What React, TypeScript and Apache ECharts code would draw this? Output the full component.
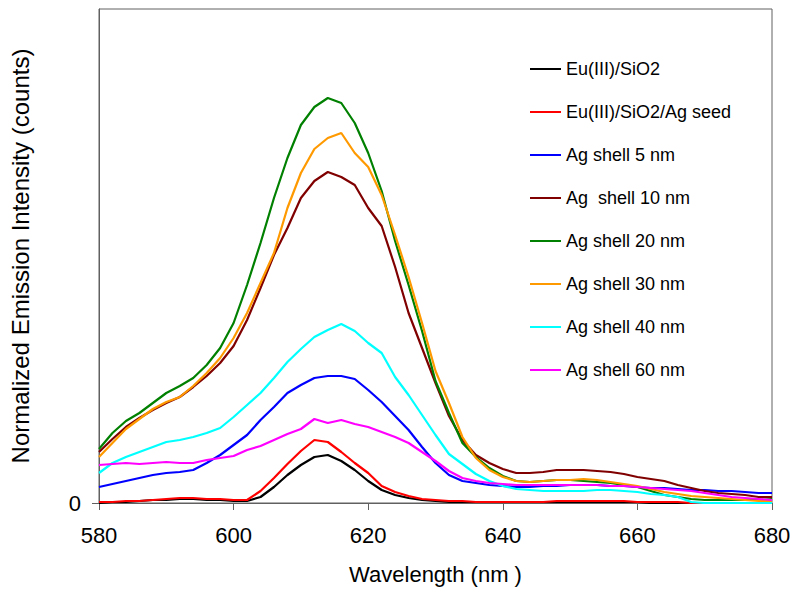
import React, { useEffect, useRef } from "react";
import * as echarts from "echarts";

const wavelengths = [
  580, 582, 584, 586, 588, 590, 592, 594, 596, 598, 600, 602, 604, 606, 608, 610, 612,
  614, 616, 618, 620, 622, 624, 626, 628, 630, 632, 634, 636, 638, 640, 642, 644, 646,
  648, 650, 652, 654, 656, 658, 660, 662, 664, 666, 668, 670, 672, 674, 676, 678, 680,
];

const euSiO2 = [
  0, 1, 1, 2, 3, 3, 4, 4, 3, 3, 2,
  2, 6, 16, 28, 38, 46, 48, 42, 33, 22,
  13, 8, 5, 3, 2, 1, 1, 1, 1, 1,
  1, 1, 1, 1, 1, 1, 1, 1, 1, 1,
  0, 0, 0, 0, 0, 0, 0, 0, 0, 0,
];
const euSiO2AgSeed = [
  1, 1, 2, 2, 3, 4, 5, 5, 4, 4, 3,
  3, 12, 25, 39, 52, 63, 61, 51, 40, 30,
  17, 11, 7, 4, 3, 2, 2, 1, 1, 1,
  1, 1, 1, 2, 2, 2, 2, 2, 2, 1,
  1, 1, 1, 0, 0, 0, 0, 0, 0, 0,
];
const shell5 = [
  16, 19, 22, 25, 28, 30, 31, 33, 40, 48, 58,
  68, 83, 96, 110, 118, 125, 127, 127, 124, 113,
  101, 87, 73, 56, 40, 28, 22, 20, 18, 17,
  16, 16, 17, 17, 18, 18, 18, 17, 17, 16,
  15, 15, 14, 13, 13, 12, 12, 11, 10, 10,
];
const shell10 = [
  51, 64, 76, 85, 93, 100, 106, 116, 127, 140, 157,
  183, 215, 248, 275, 305, 322, 331, 326, 318, 295,
  277, 236, 190, 155, 120, 87, 63, 48, 40, 34,
  30, 30, 31, 33, 33, 33, 32, 31, 29, 26,
  24, 22, 18, 15, 12, 10, 9, 8, 6, 6,
];
const shell20 = [
  54, 70, 82, 90, 100, 110, 117, 125, 138, 155, 180,
  218, 260, 305, 345, 378, 396, 405, 400, 380, 350,
  312, 262, 218, 172, 122, 90, 60, 46, 35, 27,
  22, 21, 22, 23, 23, 22, 21, 20, 18, 16,
  12, 8, 6, 4, 3, 3, 3, 3, 3, 4,
];
const shell30 = [
  46, 60, 74, 84, 94, 101, 106, 117, 130, 145, 165,
  190, 220, 250, 295, 330, 354, 365, 370, 350, 336,
  308, 268, 226, 180, 132, 100, 66, 45, 33, 26,
  22, 21, 22, 23, 23, 24, 23, 21, 19, 17,
  14, 11, 9, 7, 6, 5, 4, 3, 2, 2,
];
const shell40 = [
  30, 40, 46, 51, 56, 61, 63, 66, 70, 75, 86,
  98, 110, 125, 141, 154, 166, 173, 179, 172, 160,
  150, 126, 108, 88, 68, 49, 39, 29, 22, 17,
  14, 13, 12, 12, 12, 12, 13, 13, 12, 11,
  9, 8, 6, 1, 0, 0, 0, 0, 0, 0,
];
const shell60 = [
  38, 39, 40, 39, 40, 41, 40, 40, 43, 45, 47,
  53, 57, 63, 69, 74, 84, 80, 83, 79, 76,
  71, 66, 60, 51, 42, 32, 25, 22, 20, 19,
  18, 18, 18, 18, 18, 18, 18, 17, 17, 16,
  15, 14, 13, 12, 10, 8, 6, 5, 4, 3,
];

const seriesNames = [
  "Eu(III)/SiO2",
  "Eu(III)/SiO2/Ag seed",
  "Ag shell 5 nm",
  "Ag  shell 10 nm",
  "Ag shell 20 nm",
  "Ag shell 30 nm",
  "Ag shell 40 nm",
  "Ag shell 60 nm",
];
const seriesValues = [euSiO2, euSiO2AgSeed, shell5, shell10, shell20, shell30, shell40, shell60];
const seriesColors = ["#000000", "#FF0000", "#0000FF", "#800000", "#008000", "#FF9900", "#00FFFF", "#FF00FF"];

const xTicks = { min: 580, max: 680, interval: 20 };
const yMax = 494;

const FONT = "Liberation Sans, Arial, Helvetica, sans-serif";

export default function App() {
  const ref = useRef<HTMLDivElement>(null);
  useEffect(() => {
    const chart = echarts.init(ref.current!, null, { renderer: "svg" });
    chart.setOption({
      animation: false,
      backgroundColor: "#ffffff",
      grid: {
        left: 97,
        top: 9,
        right: 28,
        bottom: 94,
        show: true,
        borderColor: "#606060",
        borderWidth: 1,
      },
      legend: {
        orient: "vertical",
        left: 530,
        top: 59,
        padding: 0,
        itemWidth: 31,
        itemHeight: 14,
        itemGap: 23,
        icon: "path://M0,0 L31,0 L31,2 L0,2 Z",
        textStyle: { fontFamily: FONT, fontSize: 18, color: "#000", lineHeight: 20 },
        data: seriesNames.map((n, i) => ({ name: n, itemStyle: { color: seriesColors[i] } })),
      },
      xAxis: {
        type: "value",
        min: xTicks.min,
        max: xTicks.max,
        interval: xTicks.interval,
        name: "Wavelength (nm )",
        nameLocation: "middle",
        nameGap: 60,
        nameTextStyle: { fontFamily: FONT, fontSize: 22, color: "#000" },
        axisLine: { show: true, lineStyle: { color: "#606060", width: 1 } },
        axisTick: { show: true, inside: false, length: 7, lineStyle: { color: "#606060" } },
        axisLabel: { fontFamily: FONT, fontSize: 22, color: "#000", margin: 21 },
        splitLine: { show: false },
      },
      yAxis: {
        type: "value",
        min: 0,
        max: yMax,
        name: "Normalized Emission Intensity (counts)",
        nameLocation: "middle",
        nameGap: 67,
        nameTextStyle: { fontFamily: FONT, fontSize: 24, color: "#000" },
        axisLine: { show: true, lineStyle: { color: "#606060", width: 1 } },
        axisTick: { show: true, length: 7, customValues: [0], lineStyle: { color: "#606060" } },
        axisLabel: { fontFamily: FONT, fontSize: 22, color: "#000", margin: 18, customValues: [0] },
        splitLine: { show: false },
      },
      series: seriesNames.map((name, i) => ({
        name,
        type: "line",
        symbol: "none",
        smooth: false,
        data: wavelengths.map((w, j) => [w, seriesValues[i][j]]),
        lineStyle: { color: seriesColors[i], width: 2.2 },
        itemStyle: { color: seriesColors[i] },
      })),
    });
    return () => chart.dispose();
  }, []);
  return (
    <div
      ref={ref}
      style={{ position: "fixed", left: 0, top: 0, width: 800, height: 597, background: "#fff" }}
    />
  );
}
